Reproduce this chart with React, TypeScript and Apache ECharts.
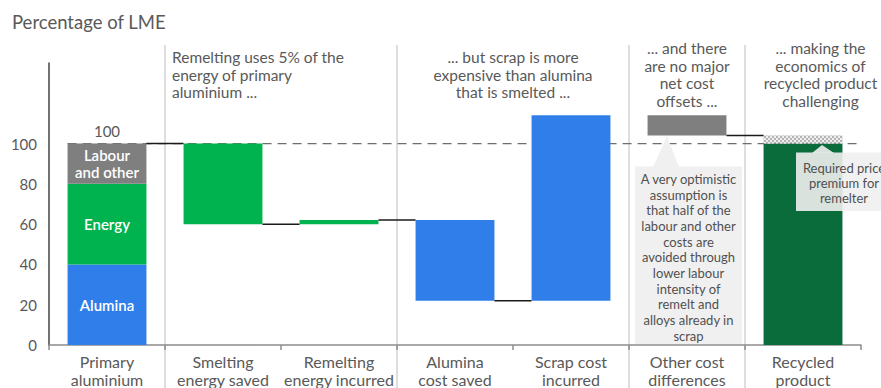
import React, { useEffect, useRef } from "react";
import * as echarts from "echarts";

// ---------- data ----------
const categories = [
  "Primary\naluminium",
  "Smelting\nenergy saved",
  "Remelting\nenergy incurred",
  "Alumina\ncost saved",
  "Scrap cost\nincurred",
  "Other cost\ndifferences",
  "Recycled\nproduct",
];
const primaryPartNames = ["Alumina", "Energy", "Labour\nand other"];
const primaryParts = [40, 40, 20];
const stepValues = [-40, 2, -40, 92, -10]; // categories 1..5
const recycledValue = 100;
const premiumValue = 4;
const connectorAfter = [0, 1, 2, 3, 5];
const yMax = 140;
const yInterval = 20;
const yLabelMax = 100;

const titleText = "Percentage of LME";
const headerTexts = [
  "Remelting uses 5% of the\nenergy of primary\naluminium ...",
  "... but scrap is more\nexpensive than alumina\nthat is smelted ...",
  "... and there\nare no major\nnet cost\noffsets ...",
  "... making the\neconomics of\nrecycled product\nchallenging",
];
const calloutOther =
  "A very optimistic\nassumption is\nthat half of the\nlabour and other\ncosts are\navoided through\nlower labour\nintensity of\nremelt and\nalloys already in\nscrap";
const calloutPremium = "Required price\npremium for\nremelter";

// ---------- styles ----------
const FONT = 'Lato, "Noto Sans", sans-serif';
const TEXT = "#595959";
const BLUE = "#2F7EEA";
const GREEN = "#00B34F";
const GREY = "#7F7F7F";
const DARK_GREEN = "#0A6B3B";
const partColors = [BLUE, GREEN, GREY];
const stepColors = [GREEN, GREEN, BLUE, BLUE, GREY];

const W = 881;
const H = 388;
const GRID = { left: 49, right: 20, top: 63, bottom: 41 };

export default function App() {
  const ref = useRef<HTMLDivElement>(null);

  useEffect(() => {
    if (!ref.current) return;
    const chart = echarts.init(ref.current, undefined, { renderer: "svg" });
    const n = categories.length;
    const halfW = 0.34;

    const total = primaryParts.reduce((a, b) => a + b, 0);
    let level = total;
    const lows: number[] = [];
    const heights: number[] = [];
    const levelsAfter: number[] = [total];
    stepValues.forEach((d) => {
      lows.push(Math.min(level, level + d));
      heights.push(Math.abs(d));
      level += d;
      levelsAfter.push(level);
    });
    levelsAfter.push(recycledValue + premiumValue);

    const empty = (k: number) => Array.from({ length: k }, () => "-" as any);

    const barCommon = {
      type: "bar",
      stack: "w",
      barWidth: "68%",
      xAxisIndex: 0,
      yAxisIndex: 0,
      silent: true,
    };

    const series: any[] = [];
    series.push({
      ...barCommon,
      name: "base",
      itemStyle: { color: "transparent" },
      data: ["-", ...lows, "-"],
    });
    primaryParts.forEach((v, i) => {
      const s: any = {
        ...barCommon,
        name: primaryPartNames[i],
        itemStyle: { color: partColors[i] },
        label: {
          show: true,
          position: "inside",
          color: "#fff",
          fontFamily: FONT,
          fontSize: 15,
          fontWeight: 600,
          lineHeight: 17,
          formatter: primaryPartNames[i],
        },
        data: [v, ...empty(n - 1)],
      };
      if (i === primaryParts.length - 1) {
        s.markPoint = {
          symbol: "circle",
          symbolSize: 0,
          silent: true,
          label: {
            show: true,
            position: "top",
            distance: 5,
            color: TEXT,
            fontFamily: FONT,
            fontSize: 15,
            formatter: String(total),
          },
          data: [{ coord: [0, total], value: total }],
        };
      }
      series.push(s);
    });
    series.push({
      ...barCommon,
      name: "steps",
      data: [
        "-",
        ...heights.map((h, i) => ({ value: h, itemStyle: { color: stepColors[i] } })),
        "-",
      ],
    });
    series.push({
      ...barCommon,
      name: "recycled",
      itemStyle: { color: DARK_GREEN },
      data: [...empty(n - 1), recycledValue],
    });
    series.push({
      ...barCommon,
      name: "premium",
      itemStyle: {
        color: "#b4b4b4",
        decal: {
          symbol: "rect",
          symbolSize: 1,
          color: "rgba(255,255,255,0.8)",
          dashArrayX: [[2, 2], [0, 2, 2, 0]],
          dashArrayY: [2, 0],
          rotation: 0,
        },
      },
      data: [...empty(n - 1), premiumValue],
    });

    // reference dashed line at the primary total
    series.push({
      type: "line",
      xAxisIndex: 1,
      yAxisIndex: 0,
      symbol: "none",
      silent: true,
      z: 1,
      lineStyle: { color: "#6e6e6e", width: 1.3, type: [9, 6] },
      data: [
        [-halfW, total],
        [n - 0.5, total],
      ],
    });
    // connectors
    connectorAfter.forEach((i) => {
      const y = levelsAfter[i];
      series.push({
        type: "line",
        xAxisIndex: 1,
        yAxisIndex: 0,
        symbol: "none",
        silent: true,
        z: 3,
        lineStyle: { color: "#1a1a1a", width: 1.5 },
        data: [
          [i + halfW, y],
          [i + 1 - halfW, y],
        ],
      });
    });

    // layout helpers (pixel layout for decorations)
    const gw = W - GRID.left - GRID.right;
    const cw = gw / n;
    const bx = (k: number) => GRID.left + k * cw;
    const sepBoundaries = [1, 3, 5, 6];

    const graphics: any[] = [];
    graphics.push({
      type: "text",
      x: 12,
      y: 22,
      style: {
        text: titleText,
        fontFamily: FONT,
        fontSize: 18.5,
        fill: TEXT,
        textAlign: "left",
        textVerticalAlign: "middle",
      },
    });
    sepBoundaries.forEach((k) => {
      graphics.push({
        type: "line",
        z: 0,
        shape: { x1: bx(k), y1: 45, x2: bx(k), y2: H },
        style: { stroke: "#d3d3d3", lineWidth: 1.5 },
      });
    });
    const headerPos = [
      { x: bx(1) + 7, y: 57, align: "left", lh: 17.5 },
      { x: bx(4), y: 57, align: "center", lh: 17.5 },
      { x: bx(5.5), y: 48, align: "center", lh: 17.7 },
      { x: 820.5, y: 48, align: "center", lh: 17.7 },
    ];
    headerTexts.forEach((t, i) => {
      const p = headerPos[i];
      graphics.push({
        type: "text",
        x: p.x,
        y: p.y - p.lh / 2,
        style: {
          text: t,
          fontFamily: FONT,
          fontSize: 15.5,
          lineHeight: p.lh,
          fill: TEXT,
          textAlign: p.align,
          textVerticalAlign: "top",
        },
      });
    });
    // callout for "other cost differences"
    graphics.push({
      type: "polygon",
      z: 50,
      shape: { points: [[653, 167], [667, 136], [679, 167]] },
      style: { fill: "#f0f0f0" },
    });
    graphics.push({
      type: "rect",
      z: 50,
      shape: { x: 635, y: 166.5, width: 107, height: 177.5 },
      style: { fill: "#f0f0f0" },
    });
    graphics.push({
      type: "text",
      z: 51,
      x: 688.5,
      y: 171,
      style: {
        text: calloutOther,
        fontFamily: FONT,
        fontSize: 13,
        lineHeight: 15.7,
        fill: "#505050",
        textAlign: "center",
        textVerticalAlign: "top",
      },
    });
    // callout for required premium
    graphics.push({
      type: "polygon",
      z: 50,
      shape: { points: [[812, 153], [822, 145], [834, 153]] },
      style: { fill: "rgba(240,240,240,0.9)" },
    });
    graphics.push({
      type: "rect",
      z: 50,
      shape: { x: 796, y: 152.5, width: 120, height: 58.5 },
      style: { fill: "rgba(240,240,240,0.9)" },
    });
    graphics.push({
      type: "text",
      z: 51,
      x: 844,
      y: 160.5,
      style: {
        text: calloutPremium,
        fontFamily: FONT,
        fontSize: 13,
        lineHeight: 15,
        fill: "#505050",
        textAlign: "center",
        textVerticalAlign: "top",
      },
    });

    chart.setOption({
      animation: false,
      grid: { ...GRID, containLabel: false },
      xAxis: [
        {
          type: "category",
          data: categories,
          axisLine: { show: true, onZero: false, lineStyle: { color: "#8c8c8c", width: 1.5 } },
          axisTick: { show: true, length: 5, lineStyle: { color: "#8c8c8c", width: 1.5 } },
          axisLabel: {
            interval: 0,
            color: TEXT,
            fontFamily: FONT,
            fontSize: 16,
            lineHeight: 18,
            margin: 7,
          },
          splitLine: { show: false },
        },
        {
          type: "value",
          min: -0.5,
          max: n - 0.5,
          show: false,
          splitLine: { show: false },
        },
      ],
      yAxis: {
        type: "value",
        min: 0,
        max: yMax,
        interval: yInterval,
        axisLine: { show: true, onZero: false, lineStyle: { color: "#444", width: 1.5 } },
        axisTick: { show: false },
        splitLine: { show: false },
        axisLabel: {
          color: TEXT,
          fontFamily: FONT,
          fontSize: 15,
          margin: 12,
          formatter: (v: number) => (v <= yLabelMax ? String(v) : ""),
        },
      },
      series,
      graphic: graphics,
    });

    return () => chart.dispose();
  }, []);

  return (
    <div
      ref={ref}
      style={{ position: "fixed", left: 0, top: 0, width: W, height: H, background: "#fff" }}
    />
  );
}
